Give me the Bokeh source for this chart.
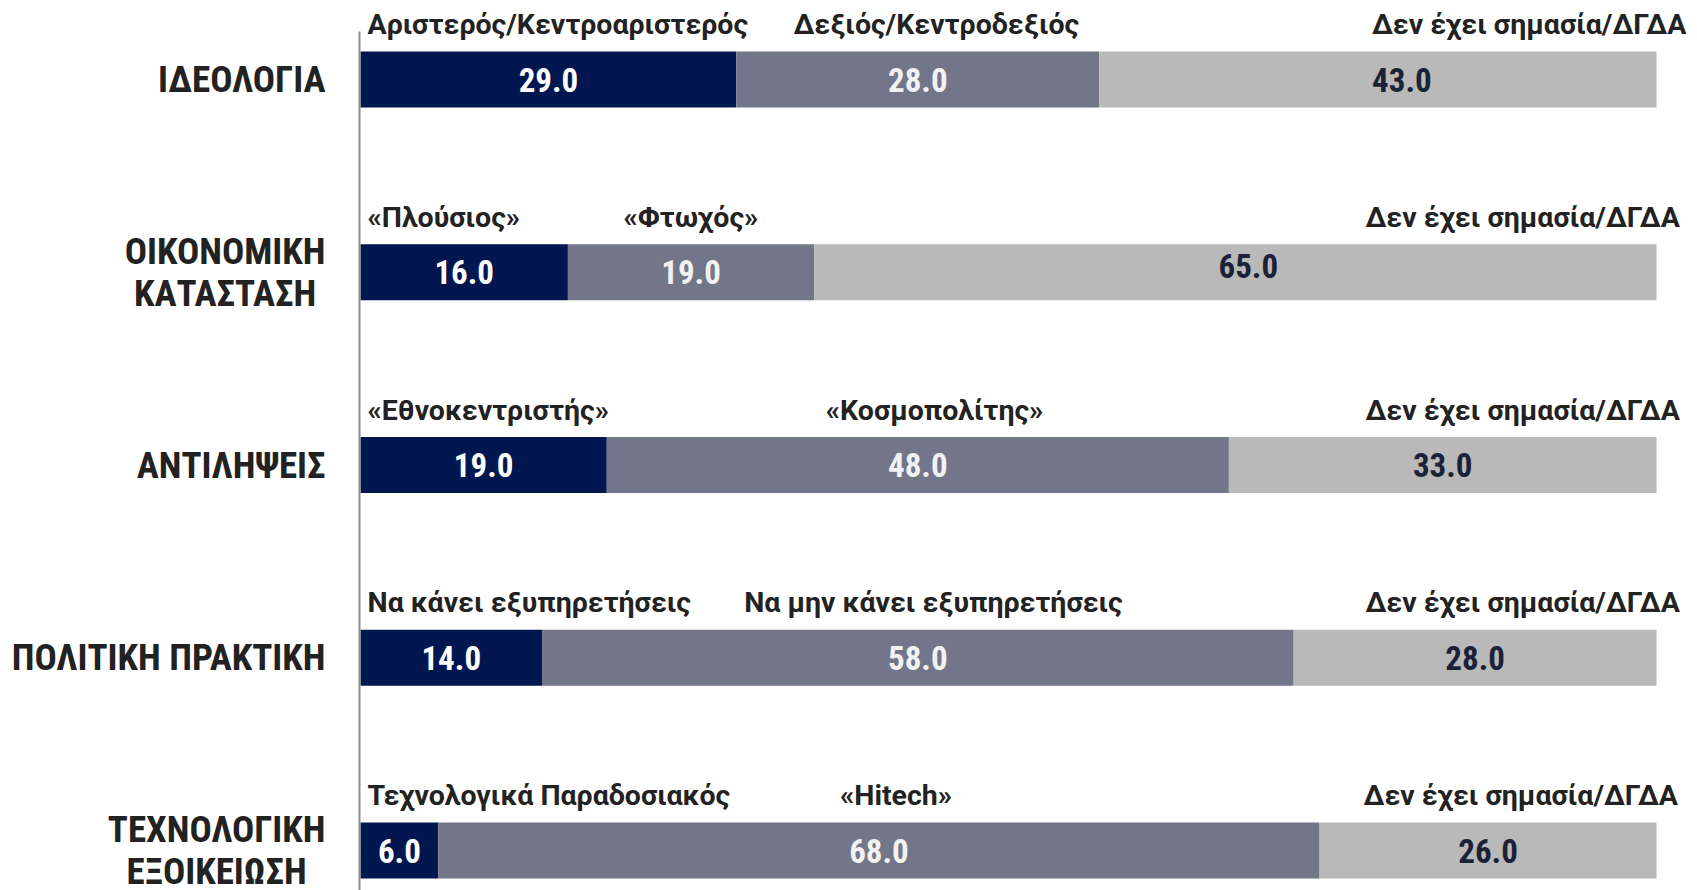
from bokeh.plotting import figure
from bokeh.models import Range1d, ColumnDataSource
from bokeh.core.properties import value
from bokeh.embed import file_html
from bokeh.resources import INLINE

categories = ["ΙΔΕΟΛΟΓΙΑ", "ΟΙΚΟΝΟΜΙΚΗ\nΚΑΤΑΣΤΑΣΗ", "ΑΝΤΙΛΗΨΕΙΣ", "ΠΟΛΙΤΙΚΗ ΠΡΑΚΤΙΚΗ", "ΤΕΧΝΟΛΟΓΙΚΗ\nΕΞΟΙΚΕΙΩΣΗ"]
first = [29.0, 16.0, 19.0, 14.0, 6.0]
second = [28.0, 19.0, 48.0, 58.0, 68.0]
third = [43.0, 65.0, 33.0, 28.0, 26.0]
label_first = ["Αριστερός/Κεντροαριστερός", "«Πλούσιος»", "«Εθνοκεντριστής»", "Να κάνει εξυπηρετήσεις", "Τεχνολογικά Παραδοσιακός"]
label_second = ["Δεξιός/Κεντροδεξιός", "«Φτωχός»", "«Κοσμοπολίτης»", "Να μην κάνει εξυπηρετήσεις", "«Hitech»"]
label_third = ["Δεν έχει σημασία/ΔΓΔΑ"] * 5

# layout: header placement, category label anchors and value-label nudges (axis units)
header2_x = [33.4, 20.3, 35.9, 29.6, 37.0]
header3_x = [102.3, 101.8, 101.8, 101.8, 101.65]
cat_x = [-2.7, -10.45, -2.7, -2.7, -11.1]
cat_align = ["right", "center", "right", "right", "center"]
nudge_x = [[0, 0, 0, 0, 0], [0, 0, 0, 0, 0], [1.85, 1.0, 0, 0, 0]]
nudge_y = [[0, 0, 0, 0, 0], [0, 0, 0, 0, 0], [0, -0.031, 0, 0, 0]]

colors = ["#02164f", "#737589", "#b9b9b9"]
value_colors = ["#ffffff", "#f2f2f2", "#1b2238"]

CONDENSED = "Roboto Condensed, Arial Narrow, Liberation Sans Narrow, Roboto"

W, H = 1697, 890
p = figure(width=W, height=H, output_backend="svg", toolbar_location=None,
           x_axis_type=None, y_axis_type=None,
           x_range=Range1d(-27.78, 103.16), y_range=Range1d(4.2075, -0.4099),
           min_border=0, outline_line_color=None)
p.grid.visible = False

rows = list(range(len(categories)))
series = [first, second, third]
left = [0.0] * len(rows)
for k, vals in enumerate(series):
    right = [l + v for l, v in zip(left, vals)]
    src = ColumnDataSource(dict(y=rows, left=left, right=right,
                                ty=[r + d for r, d in zip(rows, nudge_y[k])],
                                mid=[(l + r) / 2 + d for l, r, d in zip(left, right, nudge_x[k])],
                                txt=["%.1f" % v for v in vals]))
    p.hbar(y="y", left="left", right="right", height=0.2905, source=src,
           fill_color=colors[k], line_color=None)
    p.text(x="mid", y="ty", text="txt", source=src, text_align="center",
           text_baseline="middle", text_color=value_colors[k],
           text_font=value(CONDENSED), text_font_style="bold",
           text_font_size="33px")
    left = right

# headers
hy = [r - 0.285 for r in rows]
hfont = dict(text_font=value("Roboto"), text_font_style="bold", text_font_size="28.5px",
             text_color="#222222", text_baseline="middle")
p.text(x=[0.54] * len(rows), y=hy, text=label_first, text_align="left", **hfont)
p.text(x=header2_x, y=hy, text=label_second, text_align="left", **hfont)
p.text(x=header3_x, y=hy, text=label_third, text_align="right", **hfont)

# category labels
for align in ("right", "center"):
    idx = [i for i in rows if cat_align[i] == align]
    p.text(x=[cat_x[i] for i in idx], y=[rows[i] for i in idx],
           text=[categories[i] for i in idx], text_align=align,
           text_baseline="middle", text_color="#222222",
           text_font=value(CONDENSED), text_font_style="bold",
           text_font_size="37px", text_line_height=0.97)

# axis line
p.segment(x0=[-0.08], y0=[-0.249], x1=[-0.08], y1=[4.4], line_color="#8c8c8c", line_width=2)

open("out.html", "w").write(file_html(p, INLINE))
